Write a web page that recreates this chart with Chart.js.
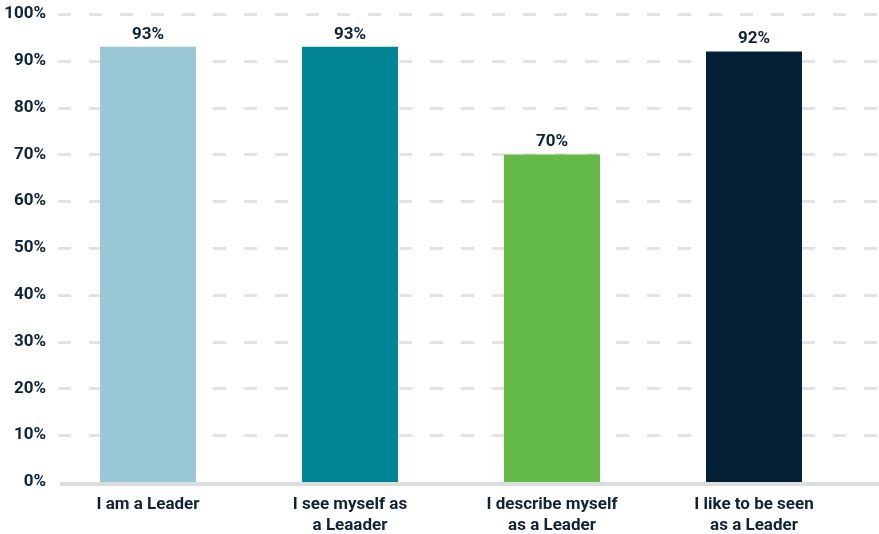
<!DOCTYPE html>
<html>
<head>
<meta charset="utf-8">
<script src="https://cdn.jsdelivr.net/npm/chart.js@4"></script>
<style>
  html, body { margin: 0; padding: 0; background: #ffffff; }
  #wrap { width: 879px; height: 534px; position: relative; }
</style>
</head>
<body>
<div id="wrap"><canvas id="myChart"></canvas></div>
<script>
const categories = [
  ["I am a Leader"],
  ["I see myself as", "a Leaader"],
  ["I describe myself", "as a Leader"],
  ["I like to be seen", "as a Leader"],
];
const values = [93, 93, 70, 92];
const barColors = ["#99c7d5", "#008496", "#63ba47", "#031f35"];
const yTicks = [0, 10, 20, 30, 40, 50, 60, 70, 80, 90, 100];

const TEXT = "#0d2338";
const FONT = "Roboto, sans-serif";

// dashed gridlines and base line across the full width
const gridPlugin = {
  id: "wideGrid",
  beforeDatasetsDraw(chart) {
    const { ctx, scales } = chart;
    const y = scales.y;
    ctx.save();
    ctx.lineWidth = 3;
    ctx.strokeStyle = "#e3e3e3";
    ctx.setLineDash([13, 18]);
    yTicks.forEach((t) => {
      if (t === 0) return;
      const py = Math.round(y.getPixelForValue(t)) + 0.5;
      ctx.beginPath();
      ctx.moveTo(58, py);
      ctx.lineTo(chart.width, py);
      ctx.stroke();
    });
    ctx.restore();
  },
  afterDatasetsDraw(chart) {
    const { ctx, scales } = chart;
    const py = scales.y.getPixelForValue(0);
    ctx.save();
    ctx.fillStyle = "#dcdedd";
    ctx.fillRect(60, py, chart.width - 60, 4);
    ctx.restore();
  },
};

// value labels on top of each bar
const valueLabels = {
  id: "valueLabels",
  afterDatasetsDraw(chart) {
    const { ctx } = chart;
    const meta = chart.getDatasetMeta(0);
    ctx.save();
    ctx.fillStyle = TEXT;
    ctx.font = "bold 17px " + FONT;
    ctx.textAlign = "center";
    ctx.textBaseline = "bottom";
    meta.data.forEach((bar, i) => {
      ctx.fillText(values[i] + "%", bar.x, bar.y - 4);
    });
    ctx.restore();
  },
};

const ctx = document.getElementById("myChart");
new Chart(ctx, {
  type: "bar",
  data: {
    labels: categories,
    datasets: [
      {
        data: values,
        backgroundColor: barColors,
        borderWidth: 0,
        categoryPercentage: 1,
        barPercentage: 0.475,
      },
    ],
  },
  options: {
    responsive: true,
    maintainAspectRatio: false,
    animation: false,
    layout: { padding: { top: 14, right: 24, left: 0, bottom: 0 } },
    plugins: {
      legend: { display: false },
      tooltip: { enabled: false },
    },
    scales: {
      x: {
        grid: { display: false, drawTicks: false },
        border: { display: false },
        afterFit: (scale) => { scale.height = 52; },
        ticks: {
          color: TEXT,
          font: { family: FONT, size: 17, weight: "bold", lineHeight: 1.25 },
          padding: 12,
          maxRotation: 0,
        },
      },
      y: {
        min: 0,
        max: 100,
        grid: { display: false, drawTicks: false },
        border: { display: false },
        afterFit: (scale) => { scale.width = 47; },
        afterBuildTicks: (scale) => {
          scale.ticks = yTicks.map((v) => ({ value: v }));
        },
        ticks: {
          color: TEXT,
          font: { family: FONT, size: 17, weight: "bold" },
          padding: 1,
          callback: (v) => v + "%",
        },
      },
    },
  },
  plugins: [gridPlugin, valueLabels],
});
</script>
</body>
</html>
